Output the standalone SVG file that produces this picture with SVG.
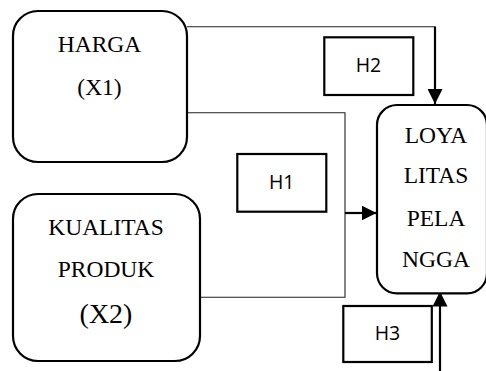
<svg xmlns="http://www.w3.org/2000/svg" width="486" height="371" viewBox="0 0 486 371">
<defs>
<marker id="ah" viewBox="0 0 10 10" refX="10" refY="5" markerWidth="15" markerHeight="15" markerUnits="userSpaceOnUse" orient="auto">
<path d="M0,0 L10,5 L0,10 Z" fill="#000"/>
</marker>
<style>
.node{fill:#fff;stroke:#000;stroke-width:2.2}
.hbox{fill:#fff;stroke:#000;stroke-width:2.2}
.serif{font-family:"Liberation Serif","Times New Roman",serif;font-size:23.5px;fill:#000;text-anchor:middle}
.sans{font-family:"Open Sans","Liberation Sans",sans-serif;font-size:19.5px;fill:#000;text-anchor:middle}
.thin{fill:none;stroke:#222;stroke-width:1.1}
.thick{fill:none;stroke:#000;stroke-width:2.2}
</style>
</defs>
<rect width="486" height="371" fill="#fff"/>
<g id="connectors">
<polyline class="thin" points="187,26.7 435,26.7 435,90"/>
<line class="thick" x1="435" y1="26.7" x2="435" y2="104" marker-end="url(#ah)"/>
<polyline class="thin" points="187,112.7 345,112.7 345,297.3 200,297.3"/>
<line class="thick" x1="345" y1="213" x2="376.5" y2="213" marker-end="url(#ah)"/>
<line class="thick" x1="440" y1="371" x2="440" y2="291.5" marker-end="url(#ah)"/>
</g>
<g id="harga">
<rect class="node" x="13" y="11" width="174" height="151" rx="25"/>
<text class="serif" x="99.5" y="52.3">HARGA</text>
<text class="serif" x="99.5" y="95">(X1)</text>
</g>
<g id="kualitas">
<rect class="node" x="13" y="194" width="187" height="167" rx="25"/>
<text class="serif" x="106" y="235">KUALITAS</text>
<text class="serif" x="106" y="276.7">PRODUK</text>
<text class="serif" x="106" y="323" style="font-size:28px">(X2)</text>
</g>
<g id="loyalitas">
<rect class="node" x="377" y="105" width="110" height="188.3" rx="20"/>
<text class="serif" x="436" y="142.7">LOYA</text>
<text class="serif" x="436" y="183.3">LITAS</text>
<text class="serif" x="436" y="225.7">PELA</text>
<text class="serif" x="436" y="266.7">NGGA</text>
</g>
<g id="h1">
<rect class="hbox" x="237.3" y="154" width="89" height="57.7"/>
<text class="sans" x="281.7" y="188.5">H1</text>
</g>
<g id="h2">
<rect class="hbox" x="324.3" y="37.3" width="89" height="57.7"/>
<text class="sans" x="368.5" y="72">H2</text>
</g>
<g id="h3">
<rect class="hbox" x="343.3" y="306" width="88.5" height="56"/>
<text class="sans" x="387.5" y="339.5">H3</text>
</g>
</svg>
